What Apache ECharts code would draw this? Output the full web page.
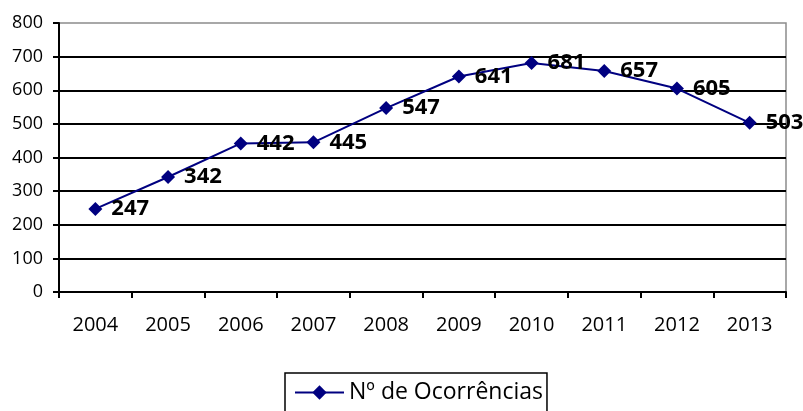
<!DOCTYPE html>
<html>
<head>
<meta charset="utf-8">
<script src="https://cdn.jsdelivr.net/npm/echarts@6/dist/echarts.min.js"></script>
<style>
  html, body { margin: 0; padding: 0; background: #fff; }
  #chart { width: 803px; height: 411px; }
</style>
</head>
<body>
<div id="chart"></div>
<script>
// chart data
const years = ['2004', '2005', '2006', '2007', '2008', '2009', '2010', '2011', '2012', '2013'];
const occurrences = [247, 342, 442, 445, 547, 641, 681, 657, 605, 503];
const seriesName = 'Nº de Ocorrências';

const font = 'Open Sans, Noto Sans, sans-serif';
const navy = '#000080';

const chart = echarts.init(document.getElementById('chart'), null, { renderer: 'canvas' });

chart.setOption({
    backgroundColor: '#fff',
    animation: false,
    grid: { left: 59, right: 17, top: 23, bottom: 119, containLabel: false,
            show: true, borderColor: '#8c8c8c', borderWidth: 1.5 },
    xAxis: {
        type: 'category',
        data: years,
        boundaryGap: true,
        axisLine: { show: true, lineStyle: { color: '#000', width: 2 } },
        axisTick: { show: true, length: 6, lineStyle: { color: '#000', width: 2 } },
        axisLabel: { color: '#000', fontSize: 20, fontFamily: font, margin: 23 },
        splitLine: { show: false },
    },
    yAxis: {
        type: 'value',
        min: 0,
        max: 800,
        interval: 100,
        axisLine: { show: true, lineStyle: { color: '#000', width: 2 } },
        axisTick: { show: true, length: 6, lineStyle: { color: '#000', width: 2 } },
        axisLabel: { color: '#000', fontSize: 18, fontFamily: font, margin: 16 },
        splitLine: { show: true, showMaxLine: false, lineStyle: { color: '#000', width: 2 } },
    },
    legend: {
        top: 373,
        left: 285,
        orient: 'horizontal',
        borderColor: '#000',
        borderWidth: 1.5,
        padding: [8, 4, 20, 9],
        itemWidth: 49,
        itemHeight: 18,
        itemGap: 5,
        itemStyle: { color: navy },
        lineStyle: { color: navy, width: 2 },
        textStyle: { color: '#000', fontSize: 23, fontFamily: font },
        data: [seriesName],
    },
    series: [{
        name: seriesName,
        type: 'line',
        data: occurrences,
        smooth: false,
        symbol: 'diamond',
        symbolSize: 14,
        lineStyle: { color: navy, width: 2 },
        itemStyle: { color: navy },
        label: {
            show: true,
            position: 'right',
            distance: 9,
            color: '#000',
            fontSize: 22,
            fontWeight: 'bold',
            fontFamily: font,
        },
    }],
});
</script>
</body>
</html>
